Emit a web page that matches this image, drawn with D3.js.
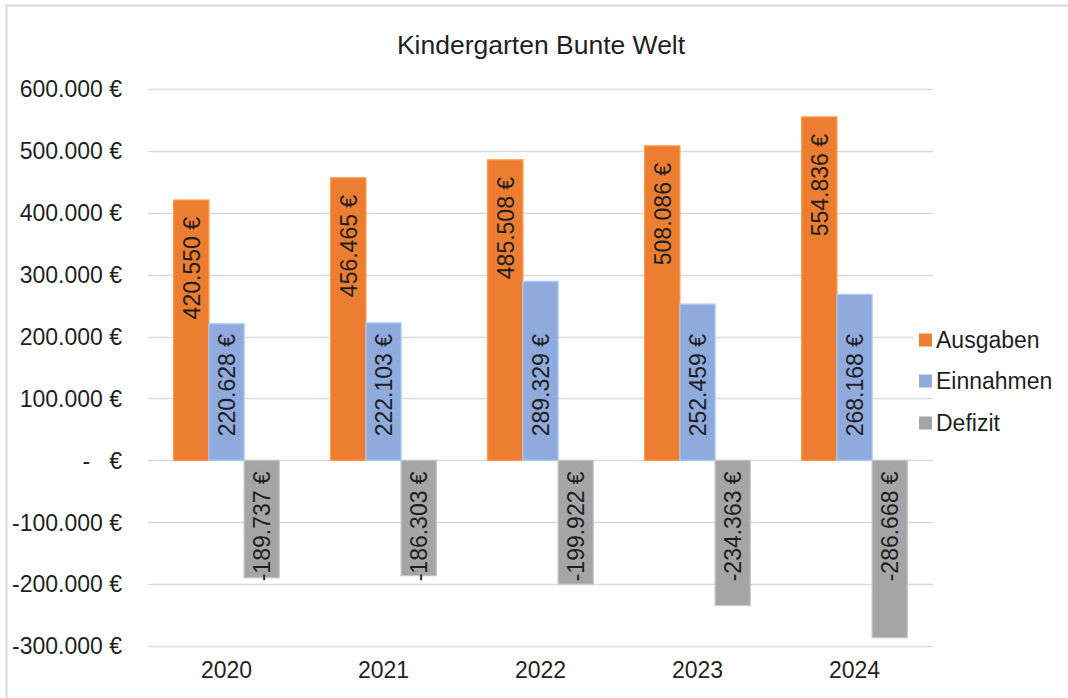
<!DOCTYPE html>
<html>
<head>
<meta charset="utf-8">
<script src="https://cdn.jsdelivr.net/npm/d3@7"></script>
<style>
  body { margin: 0; background: #fff; }
  svg text { font-family: "Liberation Sans", Arial, sans-serif; fill: #1f1f1f; }
</style>
</head>
<body>
<svg id="chart" width="1068" height="698"></svg>
<script>
// data
const years = ['2020', '2021', '2022', '2023', '2024']
const seriesNames = ['Ausgaben', 'Einnahmen', 'Defizit']
const ausgaben = [420550, 456465, 485508, 508086, 554836]
const einnahmen = [220628, 222103, 289329, 252459, 268168]
const defizit = [-189737, -186303, -199922, -234363, -286668]
const yTicks = [600000, 500000, 400000, 300000, 200000, 100000, 0, -100000, -200000, -300000]

const colors = { Ausgaben: '#ED7D31', Einnahmen: '#8FAADC', Defizit: '#A5A5A5' }

let svg = d3.select('#chart')
let width = 1068
let height = 698

// frame of the chart area (only top/left visible in the screenshot)
svg.append('line').attr('x1', 6).attr('x2', width).attr('y1', 5.5).attr('y2', 5.5)
  .attr('stroke', '#d9d9d9').attr('stroke-width', 2)
svg.append('line').attr('x1', 6.5).attr('x2', 6.5).attr('y1', 5).attr('y2', height)
  .attr('stroke', '#d9d9d9').attr('stroke-width', 2)

svg.append('text')
  .attr('x', 541)
  .attr('y', 54)
  .attr('text-anchor', 'middle')
  .attr('font-size', 26.5)
  .text('Kindergarten Bunte Welt')

let plot = { left: 148, right: 933, top: 89, bottom: 646 }

let y = d3.scaleLinear()
  .domain([-300000, 600000])
  .range([plot.bottom, plot.top])

let x0 = d3.scaleBand()
  .domain(years)
  .range([plot.left, plot.right])

let x1 = d3.scaleBand()
  .domain(seriesNames)
  .range([0, x0.bandwidth()])
  .paddingOuter(0.73)

// german number format, plain hyphen for negatives like Excel
let fmt = d3.formatLocale({ decimal: ',', thousands: '.', grouping: [3], currency: ['', ' €'], minus: '-' })
let num = fmt.format(',.0f')
let tickLabel = v => v === 0 ? '-   €' : num(v) + ' €'

// gridlines
svg.append('g')
  .attr('class', 'grid')
  .selectAll('line')
  .data(yTicks)
  .enter().append('line')
  .attr('x1', plot.left)
  .attr('x2', plot.right)
  .attr('y1', d => Math.round(y(d)) + 0.5)
  .attr('y2', d => Math.round(y(d)) + 0.5)
  .attr('stroke', '#d9d9d9')
  .attr('stroke-width', 1.5)

// y axis labels
svg.append('g')
  .attr('class', 'yaxis')
  .selectAll('text')
  .data(yTicks)
  .enter().append('text')
  .attr('x', 122)
  .attr('y', d => y(d))
  .attr('dy', '0.36em')
  .attr('text-anchor', 'end')
  .attr('font-size', 23)
  .style('white-space', 'pre')
  .text(tickLabel)

// x axis labels
svg.append('g')
  .attr('class', 'xaxis')
  .selectAll('text')
  .data(years)
  .enter().append('text')
  .attr('x', d => x0(d) + x0.bandwidth() / 2)
  .attr('y', 670)
  .attr('dy', '0.36em')
  .attr('text-anchor', 'middle')
  .attr('font-size', 23)
  .text(d => d)

let rows = []
years.forEach((yr, i) => {
  rows.push({ year: yr, series: 'Ausgaben', value: ausgaben[i] })
  rows.push({ year: yr, series: 'Einnahmen', value: einnahmen[i] })
  rows.push({ year: yr, series: 'Defizit', value: defizit[i] })
})

svg.append('g')
  .attr('class', 'bars')
  .selectAll('rect')
  .data(rows)
  .enter().append('rect')
  .attr('x', d => x0(d.year) + x1(d.series))
  .attr('width', x1.bandwidth())
  .attr('y', d => y(Math.max(0, d.value)))
  .attr('height', d => Math.abs(y(d.value) - y(0)))
  .attr('fill', d => colors[d.series])
  .attr('stroke', d => d3.color(colors[d.series]).brighter(0.5))
  .attr('stroke-width', 1.2)

// data labels, rotated; position follows what Excel did per series
function labelPos(d) {
  if (d.series === 'Ausgaben') return { y: y(d.value) + 17, anchor: 'end' }
  if (d.series === 'Einnahmen') return { y: y(0) - 24, anchor: 'start' }
  return { y: y(0) + 11, anchor: 'end' }
}

svg.append('g')
  .attr('class', 'labels')
  .selectAll('text')
  .data(rows)
  .enter().append('text')
  .attr('transform', d => {
    let cx = x0(d.year) + x1(d.series) + x1.bandwidth() / 2
    return 'translate(' + cx + ',' + labelPos(d).y + ') rotate(-90)'
  })
  .attr('dy', '0.36em')
  .attr('text-anchor', d => labelPos(d).anchor)
  .attr('font-size', 23)
  .text(d => num(d.value) + ' €')

// legend
let legend = svg.append('g').attr('class', 'legend')
legend.append('rect')
  .attr('x', 914).attr('y', 322).attr('width', 140).attr('height', 20)
  .attr('fill', '#fff')
let items = legend.selectAll('g')
  .data(seriesNames)
  .enter().append('g')
  .attr('transform', (d, i) => 'translate(919,' + [340, 381, 423][i] + ')')
items.append('rect')
  .attr('x', 0).attr('y', -6.5)
  .attr('width', 13).attr('height', 13)
  .attr('fill', d => colors[d])
items.append('text')
  .attr('x', 17)
  .attr('dy', '0.36em')
  .attr('font-size', 23)
  .text(d => d)
</script>
</body>
</html>
